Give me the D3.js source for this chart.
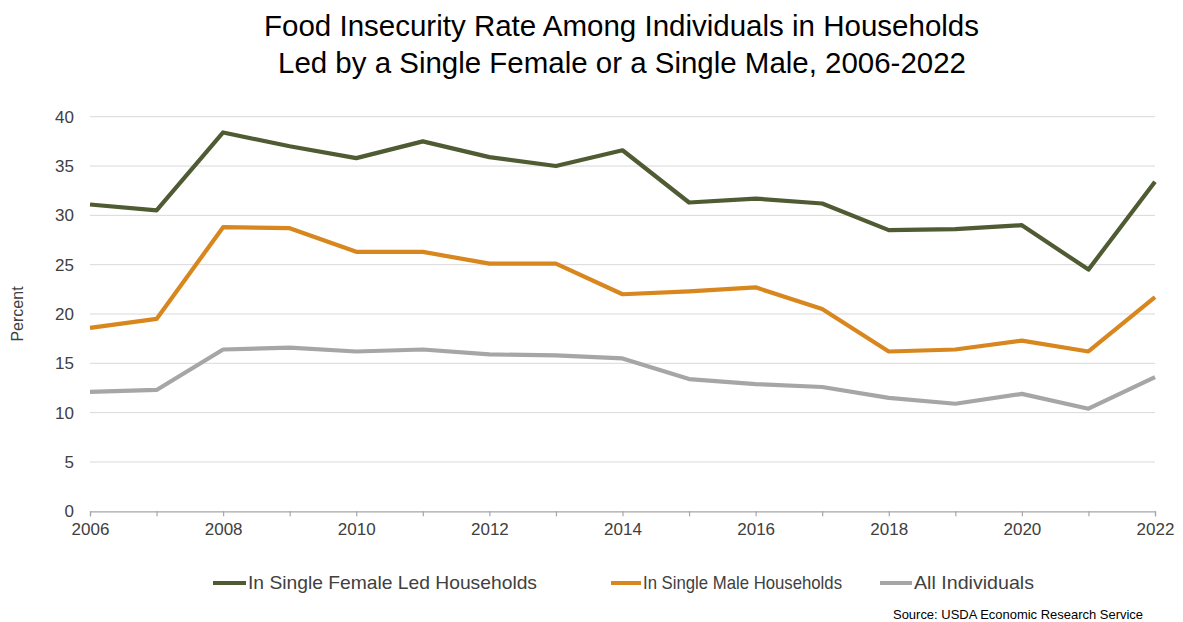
<!DOCTYPE html>
<html><head><meta charset="utf-8">
<script src="https://cdn.jsdelivr.net/npm/d3@7"></script>
<style>
body{margin:0;background:#fff;}
svg text{font-family:"Liberation Sans",Arial,sans-serif;}
</style></head>
<body><svg id="c" width="1183" height="622"></svg>
<script>
const years = [2006,2007,2008,2009,2010,2011,2012,2013,2014,2015,2016,2017,2018,2019,2020,2021,2022];
const femaleLed = [31.1,30.5,38.4,37.0,35.8,37.5,35.9,35.0,36.6,31.3,31.7,31.2,28.5,28.6,29.0,24.5,33.4];
const maleLed   = [18.6,19.5,28.8,28.7,26.3,26.3,25.1,25.1,22.0,22.3,22.7,20.5,16.2,16.4,17.3,16.2,21.7];
const allIndividuals = [12.1,12.3,16.4,16.6,16.2,16.4,15.9,15.8,15.5,13.4,12.9,12.6,11.5,10.9,11.9,10.4,13.6];
const yTicks = [0,5,10,15,20,25,30,35,40];
const xTickLabels = [2006,2008,2010,2012,2014,2016,2018,2020,2022];
const seriesNames = ["In Single Female Led Households","In Single Male Households","All Individuals"];
const seriesColors = ["#4f5b32","#d8861e","#a6a6a6"];
const titleLines = ["Food Insecurity Rate Among Individuals in Households","Led by a Single Female or a Single Male, 2006-2022"];

const svg = d3.select("#c");
const x = d3.scaleLinear().domain([2006,2022]).range([90,1155]);
const y = d3.scaleLinear().domain([0,40]).range([511.3,116.7]);

// gridlines
svg.append("g").selectAll("line").data(yTicks.filter(d=>d>0)).join("line")
  .attr("x1",x(2006)).attr("x2",x(2022)).attr("y1",d=>y(d)).attr("y2",d=>y(d))
  .attr("stroke","#d9d9d9").attr("stroke-width",1);

// y axis labels
const ya = svg.append("g").attr("transform",`translate(${x(2006)},0)`)
  .call(d3.axisLeft(y).tickValues(yTicks).tickSize(0).tickPadding(16));
ya.select(".domain").remove();
ya.selectAll("text").attr("font-size",17).attr("fill","#404040");

// x axis
const xa = svg.append("g").attr("transform",`translate(0,${y(0)})`)
  .call(d3.axisBottom(x).tickValues(years)
    .tickFormat(d=>xTickLabels.includes(d)?String(d):"")
    .tickSizeInner(5).tickSizeOuter(5).tickPadding(7));
xa.select(".domain").attr("stroke","#a6a6a6").attr("stroke-width",1.2);
xa.selectAll(".tick line").attr("stroke","#a6a6a6").attr("stroke-width",1.2);
xa.selectAll("text").attr("font-size",17).attr("fill","#404040");

// y title
svg.append("text").attr("transform",`translate(23,${(y(0)+y(40))/2}) rotate(-90)`)
  .attr("text-anchor","middle").attr("font-size",16).attr("fill","#404040").text("Percent");

// lines
const line = d3.line().x((d,i)=>x(years[i])).y(d=>y(d));
[allIndividuals, maleLed, femaleLed].forEach((s,k)=>{
  const idx = 2-k;
  svg.append("path").datum(s).attr("d",line).attr("fill","none")
    .attr("stroke",seriesColors[idx]).attr("stroke-width",4.2).attr("stroke-linejoin","round");
});

// title
const tl = [[715,264,36],[688,278,73]];
titleLines.forEach((t,i)=>{
  svg.append("text").attr("x",tl[i][1]).attr("y",tl[i][2]).attr("font-size",29).attr("fill","#000")
    .attr("textLength",tl[i][0]).attr("lengthAdjust","spacingAndGlyphs").text(t);
});

// legend
const leg = [[213,248,289],[611,643,199],[880,914,120]];
seriesNames.forEach((n,i)=>{
  svg.append("line").attr("x1",leg[i][0]).attr("x2",leg[i][1]-2).attr("y1",583).attr("y2",583)
    .attr("stroke",seriesColors[i]).attr("stroke-width",4);
  svg.append("text").attr("x",leg[i][1]).attr("y",589).attr("font-size",19).attr("fill","#404040")
    .attr("textLength",leg[i][2]).attr("lengthAdjust","spacingAndGlyphs").text(n);
});

// source
svg.append("text").attr("x",893).attr("y",619).attr("font-size",13).attr("fill","#000")
  .attr("textLength",250).attr("lengthAdjust","spacingAndGlyphs").text("Source: USDA Economic Research Service");
</script></body></html>
